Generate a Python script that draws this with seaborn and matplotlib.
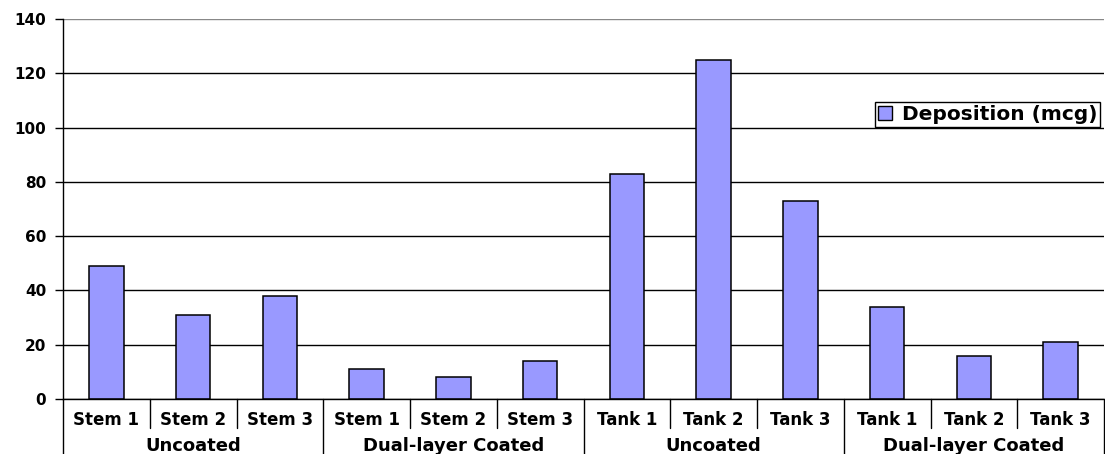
import numpy as np
import pandas as pd
import matplotlib
matplotlib.use("Agg")
import matplotlib.pyplot as plt
import matplotlib.transforms as mtransforms
from matplotlib.patches import Patch
import seaborn as sns

# Chart data
items = ["Stem 1", "Stem 2", "Stem 3", "Stem 1", "Stem 2", "Stem 3",
         "Tank 1", "Tank 2", "Tank 3", "Tank 1", "Tank 2", "Tank 3"]
groups = ["Uncoated", "Dual-layer Coated", "Uncoated", "Dual-layer Coated"]
deposition = [49, 31, 38, 11, 8, 14, 83, 125, 73, 34, 16, 21]
y_ticks = [0, 20, 40, 60, 80, 100, 120, 140]

sns.set_style("white")
plt.rcParams['font.family'] = ['DejaVu Sans']
plt.rcParams['text.color'] = 'black'
plt.rcParams['ytick.color'] = 'black'
plt.rcParams['ytick.labelcolor'] = 'black'

df = pd.DataFrame({"pos": np.arange(len(items)), "item": items, "value": deposition})

fig = plt.figure(figsize=(11.05, 4.54), dpi=100)
W, H = 1105, 454
ax = fig.add_axes([63 / W, (H - 399) / H, (1104 - 63) / W, 380 / H])

sns.barplot(data=df, x="pos", y="value", color="#9999FF", saturation=1,
            edgecolor="black", linewidth=1.1, width=0.4, ax=ax)

ax.set_ylim(0, 140)
ax.set_xlim(-0.5, len(items) - 0.5)
ax.set_yticks(y_ticks)
ax.set_yticklabels([str(t) for t in y_ticks], fontsize=11, fontweight="bold",
                   color="black")
ax.tick_params(axis="y", length=6, width=1, color="black", pad=6, left=True)
ax.yaxis.grid(True, color="black", linewidth=1)
ax.get_ygridlines()[-1].set_color("#888888")
ax.set_axisbelow(True)
ax.set_xticks([])
ax.set_xlabel("")
ax.set_ylabel("")

for side in ["top", "right"]:
    ax.spines[side].set_visible(False)
ax.spines["left"].set_color("black")
ax.spines["bottom"].set_color("black")
ax.spines["left"].set_linewidth(1)
ax.spines["bottom"].set_linewidth(1)

# Two-level category axis drawn below the plot
trans = mtransforms.blended_transform_factory(ax.transData, ax.transAxes)
px = 1 / 380  # one pixel in axes-height units
for i, lab in enumerate(items):
    ax.text(i, -21 * px, lab, transform=trans, ha="center", va="center",
            fontsize=12, fontweight="bold", color="black", clip_on=False)
for g, lab in enumerate(groups):
    ax.text(g * 3 + 1, -47 * px, lab, transform=trans, ha="center", va="center",
            fontsize=13, fontweight="bold", color="black", clip_on=False)

for b in range(len(items) + 1):
    xb = b - 0.5
    if b % 3 == 0:
        y_end = -56 * px
    else:
        y_end = -29 * px
    ax.plot([xb, xb], [0, y_end], transform=trans, color="black",
            linewidth=1, clip_on=False)

handles = [Patch(facecolor="#9999FF", edgecolor="black", linewidth=1)]
leg = ax.legend(handles, ["Deposition (mcg)"], loc="upper right",
                bbox_to_anchor=(0.9965, 0.782), frameon=True, fancybox=False,
                edgecolor="black", framealpha=1,
                prop={"weight": "bold", "size": 14.5},
                handlelength=0.7, handleheight=0.7, handletextpad=0.5,
                borderpad=0.15, borderaxespad=0)
for t in leg.get_texts():
    t.set_color("black")

fig.savefig("out.png", dpi=100)
